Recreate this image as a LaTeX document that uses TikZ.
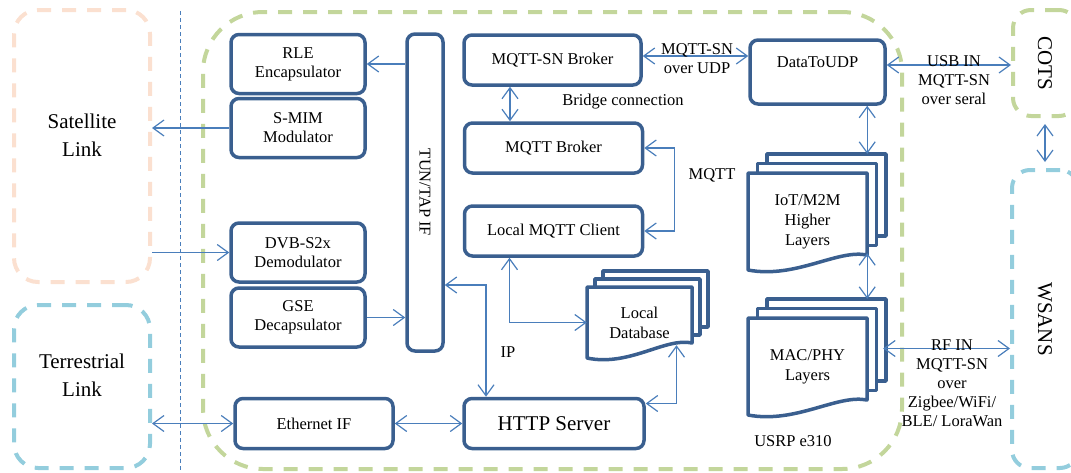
\documentclass[tikz,border=0pt]{standalone}
\usepackage{fontspec}
\setmainfont{Liberation Serif}
\usetikzlibrary{arrows.meta}

\definecolor{boxblue}{HTML}{3A5F8F}
\definecolor{linkblue}{HTML}{4A7EBB}
\definecolor{grn}{HTML}{C3D69B}
\definecolor{peach}{HTML}{FBE0D0}
\definecolor{skyblue}{HTML}{93CDDD}

\newcommand{\blkfont}{\fontsize{16.5}{19}\selectfont}
\newcommand{\zonefont}{\fontsize{21}{28}\selectfont}

% stacked pages: name, x, y (top of front page), width, height, wave, offset, text
\newcommand{\docstack}[8]{%
  \foreach \k in {2,1}
    \draw[pagebox] (#2+\k*#7,-#3+\k*#7) rectangle (#2+#4+\k*#7,-#3-#5+\k*#7);
  \draw[pagebox] (#2,-#3) -- (#2+#4,-#3) -- (#2+#4,-#3-#5)
    .. controls (#2+0.75*#4,-#3-#5+0.4*#6) and (#2+0.4*#4,-#3-#5-1.6*#6) .. (#2,-#3-#5-#6) -- cycle;
  \node[doctext, minimum width=#4, minimum height=#5+#6] (#1) at (#2+#4/2,-#3-#5/2-#6/2) {#8};
}

\begin{document}
\begin{tikzpicture}[x=1pt,y=1pt,
    >={Straight Barb[length=11pt,width=16pt]},
    blk/.style={draw=boxblue, line width=3.5pt, rounded corners=8pt, align=center, font=\blkfont, inner sep=1pt},
    pagebox/.style={draw=boxblue, line width=3.5pt, fill=white, line join=round},
    doctext/.style={align=center, font=\fontsize{16.5}{20}\selectfont, inner sep=0pt},
    zone/.style={line width=4pt, dash pattern=on 14pt off 11pt, rounded corners=24pt, inner sep=0pt, align=center, font=\zonefont},
    link/.style={draw=linkblue, line width=1.2pt},
    lbl/.style={font=\blkfont, align=center, inner sep=0pt}]
  \useasboundingbox (0,0) rectangle (1071,-472);
  \clip (0,0) rectangle (1071,-472);

  \node[zone, draw=peach, minimum width=136, minimum height=272] (sat) at (82,-146) {};
  \node[font=\zonefont, align=center] (satname) at (82,-135) {Satellite\\Link};
  \node[zone, draw=skyblue, minimum width=136, minimum height=163] (ter) at (82,-386.5) {};
  \node[font=\zonefont, align=center] (tername) at (82,-375) {Terrestrial\\Link};
  \draw[linkblue, line width=1pt, dash pattern=on 4pt off 3pt] (180,-11) -- (180,-472);

  \node[zone, draw=grn, rounded corners=60pt, minimum width=699, minimum height=457] (usrp) at (552.5,-240.5) {};
  \node[zone, draw=grn, rounded corners=18pt, minimum width=64, minimum height=106] (cots) at (1045,-63) {\rotatebox{-90}{COTS}};
  \node[zone, draw=skyblue, rounded corners=18pt, minimum width=66, minimum height=298] (wsans) at (1045,-319) {\rotatebox{-90}{WSANS}};

  \node[blk, minimum width=134, minimum height=59] (rle) at (298,-64) {RLE\\Encapsulator};
  \node[blk, minimum width=134, minimum height=59] (smim) at (298,-128) {S-MIM\\Modulator};
  \node[blk, minimum width=134, minimum height=59] (dvb) at (298,-252.5) {DVB-S2x\\Demodulator};
  \node[blk, minimum width=134, minimum height=59] (gse) at (298,-317.5) {GSE\\Decapsulator};
  \node[blk, minimum width=36, minimum height=317] (tuntap) at (425,-192.5) {\rotatebox{-90}{TUN/TAP IF}};
  \node[blk, minimum width=177, minimum height=50] (mqttsn) at (552.5,-60) {MQTT-SN Broker};
  \node[blk, minimum width=178, minimum height=50] (mqttb) at (553.5,-148) {MQTT Broker};
  \node[blk, minimum width=178, minimum height=50] (client) at (553.5,-231) {Local MQTT Client};
  \node[blk, minimum width=158, minimum height=50] (eth) at (314,-423.5) {Ethernet IF};
  \node[blk, minimum width=180, minimum height=50, font=\zonefont] (http) at (554,-423.5) {HTTP Server};
  \node[blk, minimum width=135, minimum height=64, text height=12pt, text depth=22pt] (udp) at (817.5,-72) {DataToUDP};

  \docstack{iot}{748}{173}{119}{82}{15}{9.5}{IoT/M2M\\Higher\\Layers}
  \docstack{mac}{748}{318}{119}{82}{15}{9.5}{MAC/PHY\\Layers}
  \docstack{db}{587}{287}{105}{56}{15}{8}{Local\\Database}

  \draw[link,->] (rle.east -| tuntap.west) -- (rle.east);
  \draw[link,->] (smim.west) -- (smim.west -| sat.east);
  \draw[link,->] (dvb.west -| sat.east) -- (dvb.west);
  \draw[link,->] (gse.east) -- (gse.east -| tuntap.west);
  \draw[link,<->] ([yshift=-92.5]tuntap.east) -| ([xshift=-68]http.north);
  \node[lbl] (iplbl) at (508,-352) {IP};
  \draw[link,<->] ([xshift=-44]client.south) |- (db.west);
  \draw[link,<->] ([yshift=20]http.east) -| ([xshift=37,yshift=13]db.south);
  \draw[link,<->] (eth.east) -- (http.west);
  \draw[link,<->] (eth.west) -- (eth.west -| ter.east);
  \draw[link,<->] ([yshift=4]mqttsn.east) -- ([yshift=4]mqttsn.east -| udp.west);
  \node[lbl] (udplbl) at (697,-59) {MQTT-SN\\over UDP};
  \draw[link,<->] ([xshift=-42.5]mqttsn.south) -- ([xshift=-42.5]mqttsn.south |- mqttb.north);
  \node[lbl] (bridgelbl) at (623,-102) {Bridge connection};
  \draw[link,<->] (mqttb.east) -- ++(30,0) |- (client.east);
  \node[lbl] (mqttlbl) at (712,-175) {MQTT};
  \draw[link,<->] (udp.south -| iot.east) -- ([yshift=19]iot.north east);
  \draw[link,<->] ([yshift=17]iot.south east) -- ([yshift=19]mac.north east);
  \draw[link,<->] ([yshift=7]udp.east) -- ([yshift=7]udp.east -| cots.west);
  \node[lbl] (usblbl) at (954,-80) {USB IN\\MQTT-SN\\over seral};
  \draw[link,<->] ([shift={(16,18)}]mac.east) coordinate (macout) -- (macout -| wsans.west);
  \node[lbl] (rflbl) at (952,-383) {RF IN\\MQTT-SN\\over\\Zigbee/WiFi/\\BLE/ LoraWan};
  \draw[link,<->, shorten <=6pt, shorten >=6pt] (cots.south) -- (wsans.north);
  \node[lbl] (usrplbl) at (793,-441) {USRP e310};
\end{tikzpicture}
\end{document}
